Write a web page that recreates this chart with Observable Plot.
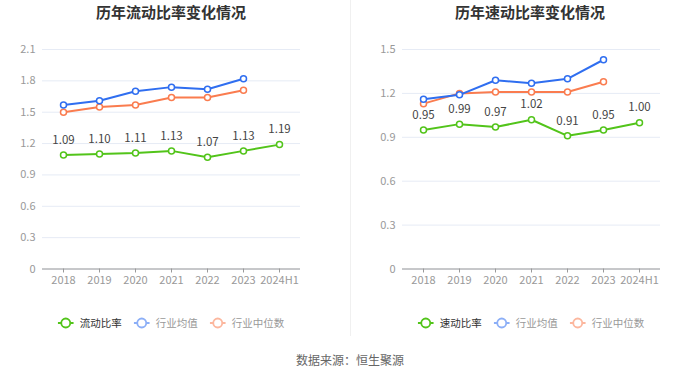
<!DOCTYPE html>
<html><head><meta charset="utf-8">
<script src="https://cdn.jsdelivr.net/npm/d3@7"></script>
<script src="https://cdn.jsdelivr.net/npm/@observablehq/plot@0.6"></script>
<style>
body{margin:0;background:#fff;font-family:"Noto Sans CJK SC","Noto Sans",sans-serif;}
#wrap{position:relative;width:700px;height:378px;overflow:hidden;background:#fff;}
.panel{position:absolute;top:0;width:350px;height:300px;}
.title{position:absolute;top:1px;font-size:15px;font-weight:bold;color:#333;white-space:nowrap;transform:translateX(-50%);}
.legend{position:absolute;top:315px;font-size:10.5px;color:#999;white-space:nowrap;display:flex;align-items:center;transform:translateX(-50%);}
.legend span.item{display:flex;align-items:center;margin-right:12px;}
.legend span.item:last-child{margin-right:0;}
.legend svg{margin-right:6px;}
.divider{position:absolute;left:350px;top:0;width:1px;height:336px;background:#f0f0f0;}
.source{position:absolute;top:351px;left:350px;transform:translateX(-50%);font-size:12px;color:#666;white-space:nowrap;}
</style></head>
<body><div id="wrap"></div>
<script>
const years = ["2018","2019","2020","2021","2022","2023","2024H1"];
const currentRatio = [1.09,1.10,1.11,1.13,1.07,1.13,1.19];
const currentIndustryMean = [1.57,1.61,1.70,1.74,1.72,1.82];
const currentIndustryMedian = [1.50,1.55,1.57,1.64,1.64,1.71];
const quickRatio = [0.95,0.99,0.97,1.02,0.91,0.95,1.00];
const quickIndustryMean = [1.16,1.19,1.29,1.27,1.30,1.43];
const quickIndustryMedian = [1.13,1.20,1.21,1.21,1.21,1.28];
const leftTicks = [0,0.3,0.6,0.9,1.2,1.5,1.8,2.1];
const rightTicks = [0,0.3,0.6,0.9,1.2,1.5];
const colors = {main:"#52c41a", mean:"#2f6ef0", median:"#fa7c4f"};

const wrap = document.getElementById("wrap");
const fmt = d => d === 0 ? "0" : d.toFixed(1);

function toRows(vals){ return vals.map((v,i)=>({year:years[i], value:v})); }

function panel({left, mainVals, meanVals, medianVals, ticks, ymax, mLeft, mRight, title, titleX, legendX, mainName}){
  const main = toRows(mainVals), mean = toRows(meanVals), median = toRows(medianVals);
  const font = '"Noto Sans CJK SC","Noto Sans",sans-serif';
  const chart = Plot.plot({
    width:350, height:300,
    marginLeft:mLeft, marginRight:mRight, marginTop:49, marginBottom:31.5,
    style:{fontFamily:font, fontSize:"11px", background:"transparent"},
    x:{type:"point", domain:years, padding:0.5, label:null},
    y:{domain:[0,ymax], label:null},
    marks:[
      Plot.gridY(ticks,{stroke:"#e6ebf5", strokeOpacity:1}),
      Plot.axisY(ticks,{tickSize:0, tickPadding:7, tickFormat:fmt, fill:"#999", label:null}),
      Plot.ruleY([0],{stroke:"#9a9a9a"}),
      Plot.axisX({tickSize:4, tickPadding:3, stroke:"#9a9a9a", fill:"#999", label:null}),
      Plot.line(median,{x:"year", y:"value", stroke:colors.median, strokeWidth:2}),
      Plot.dot(median,{x:"year", y:"value", r:3, stroke:colors.median, strokeWidth:1.5, fill:"#fff"}),
      Plot.line(mean,{x:"year", y:"value", stroke:colors.mean, strokeWidth:2}),
      Plot.dot(mean,{x:"year", y:"value", r:3, stroke:colors.mean, strokeWidth:1.5, fill:"#fff"}),
      Plot.line(main,{x:"year", y:"value", stroke:colors.main, strokeWidth:2}),
      Plot.dot(main,{x:"year", y:"value", r:3, stroke:colors.main, strokeWidth:1.5, fill:"#fff"}),
      Plot.text(main,{x:"year", y:"value", text:d=>d.value.toFixed(2), dy:-15, fill:"#444", fontSize:11.5})
    ]
  });
  const p = document.createElement("div");
  p.className = "panel"; p.style.left = left+"px";
  p.appendChild(chart);
  wrap.appendChild(p);
  const t = document.createElement("div");
  t.className="title"; t.style.left = titleX+"px"; t.textContent = title;
  wrap.appendChild(t);
  const lg = document.createElement("div");
  lg.className="legend"; lg.style.left = legendX+"px";
  const items = [[mainName, colors.main, "#333", 1],["行业均值", colors.mean, "#999", 0.55],["行业中位数", colors.median, "#999", 0.55]];
  lg.innerHTML = items.map(([n,c,tc,op])=>`<span class="item"><svg width="16" height="12"><g opacity="${op}"><line x1="0" y1="6" x2="16" y2="6" stroke="${c}" stroke-width="2"/><circle cx="8" cy="6" r="4.5" fill="#fff" stroke="${c}" stroke-width="1.8"/></g></svg><span style="color:${tc}">${n}</span></span>`).join("");
  wrap.appendChild(lg);
}

panel({left:0, mainVals:currentRatio, meanVals:currentIndustryMean, medianVals:currentIndustryMedian, ticks:leftTicks, ymax:2.1, mLeft:42, mRight:50, title:"历年流动比率变化情况", titleX:171, legendX:171, mainName:"流动比率"});
panel({left:350, mainVals:quickRatio, meanVals:quickIndustryMean, medianVals:quickIndustryMedian, ticks:rightTicks, ymax:1.5, mLeft:52, mRight:40, title:"历年速动比率变化情况", titleX:530, legendX:531, mainName:"速动比率"});

const dv = document.createElement("div"); dv.className="divider"; wrap.appendChild(dv);
const src = document.createElement("div"); src.className="source"; src.textContent="数据来源：恒生聚源"; wrap.appendChild(src);
</script></body></html>
